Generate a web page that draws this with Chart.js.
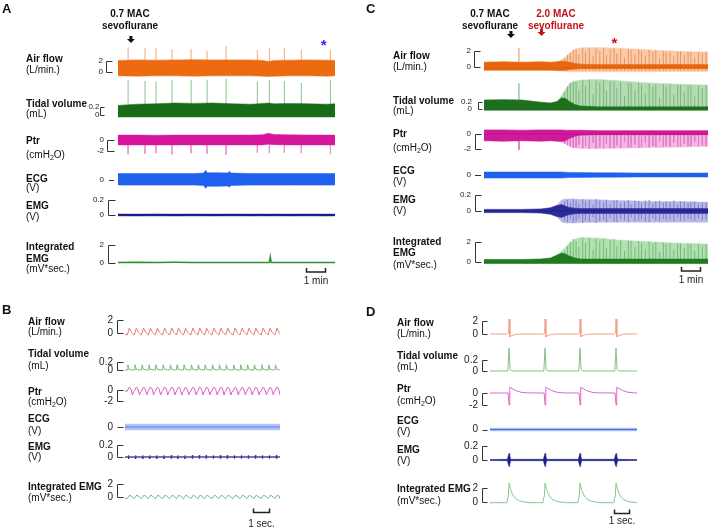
<!DOCTYPE html>
<html>
<head>
<meta charset="utf-8">
<script src="https://cdn.jsdelivr.net/npm/chart.js@4.4.1/dist/chart.umd.min.js"></script>
<style>
html, body { margin: 0; padding: 0; background: #fff; }
#page { position: relative; width: 709px; height: 532px; overflow: hidden; font-family: "Liberation Sans", Arial, sans-serif; color: #111; }
canvas { position: absolute; }
.t { position: absolute; white-space: nowrap; font-size: 10px; line-height: 12px; }
.b { font-weight: bold; }
.letter { position: absolute; font-weight: bold; font-size: 13px; line-height: 15px; }
.note { position: absolute; width: 90px; text-align: center; font-weight: bold; font-size: 10px; line-height: 12px; }
sub { font-size: 7px; line-height: 0; vertical-align: -2px; }
</style>
</head>
<body>
<div id="page">
  <canvas id="cA"></canvas>
  <canvas id="cC"></canvas>
  <canvas id="cB"></canvas>
  <canvas id="cD"></canvas>

  <div class="letter" style="left:2px;top:1px">A</div>
  <div class="letter" style="left:366px;top:1px">C</div>
  <div class="letter" style="left:2px;top:302px">B</div>
  <div class="letter" style="left:366px;top:304px">D</div>

  <div class="note" style="left:85px;top:8px">0.7 MAC<br>sevoflurane</div>
  <div class="note" style="left:445px;top:8px">0.7 MAC<br>sevoflurane</div>
  <div class="note" style="left:511px;top:8px;color:#c0141c">2.0 MAC<br>sevoflurane</div>

  <!-- panel A labels -->
  <div class="t b" style="left:26px;top:53px">Air flow</div>
  <div class="t" style="left:26px;top:64px">(L/min.)</div>
  <div class="t b" style="left:26px;top:98px">Tidal volume</div>
  <div class="t" style="left:26px;top:108px">(mL)</div>
  <div class="t b" style="left:26px;top:135px">Ptr</div>
  <div class="t" style="left:26px;top:149px">(cmH<sub>2</sub>O)</div>
  <div class="t b" style="left:26px;top:173px">ECG</div>
  <div class="t" style="left:26px;top:182px">(V)</div>
  <div class="t b" style="left:26px;top:200px">EMG</div>
  <div class="t" style="left:26px;top:211px">(V)</div>
  <div class="t b" style="left:26px;top:241px">Integrated</div>
  <div class="t b" style="left:26px;top:253px">EMG</div>
  <div class="t" style="left:26px;top:263px">(mV*sec.)</div>

  <!-- panel C labels -->
  <div class="t b" style="left:393px;top:50px">Air flow</div>
  <div class="t" style="left:393px;top:61px">(L/min.)</div>
  <div class="t b" style="left:393px;top:95px">Tidal volume</div>
  <div class="t" style="left:393px;top:105px">(mL)</div>
  <div class="t b" style="left:393px;top:128px">Ptr</div>
  <div class="t" style="left:393px;top:142px">(cmH<sub>2</sub>O)</div>
  <div class="t b" style="left:393px;top:165px">ECG</div>
  <div class="t" style="left:393px;top:176px">(V)</div>
  <div class="t b" style="left:393px;top:194px">EMG</div>
  <div class="t" style="left:393px;top:205px">(V)</div>
  <div class="t b" style="left:393px;top:236px">Integrated</div>
  <div class="t b" style="left:393px;top:247px">EMG</div>
  <div class="t" style="left:393px;top:259px">(mV*sec.)</div>

  <!-- panel B labels -->
  <div class="t b" style="left:28px;top:316px">Air flow</div>
  <div class="t" style="left:28px;top:326px">(L/min.)</div>
  <div class="t b" style="left:28px;top:348px">Tidal volume</div>
  <div class="t" style="left:28px;top:360px">(mL)</div>
  <div class="t b" style="left:28px;top:386px">Ptr</div>
  <div class="t" style="left:28px;top:396px">(cmH<sub>2</sub>O)</div>
  <div class="t b" style="left:28px;top:413px">ECG</div>
  <div class="t" style="left:28px;top:425px">(V)</div>
  <div class="t b" style="left:28px;top:441px">EMG</div>
  <div class="t" style="left:28px;top:451px">(V)</div>
  <div class="t b" style="left:28px;top:481px">Integrated EMG</div>
  <div class="t" style="left:28px;top:492px">(mV*sec.)</div>

  <!-- panel D labels -->
  <div class="t b" style="left:397px;top:317px">Air flow</div>
  <div class="t" style="left:397px;top:328px">(L/min.)</div>
  <div class="t b" style="left:397px;top:350px">Tidal volume</div>
  <div class="t" style="left:397px;top:361px">(mL)</div>
  <div class="t b" style="left:397px;top:383px">Ptr</div>
  <div class="t" style="left:397px;top:395px">(cmH<sub>2</sub>O)</div>
  <div class="t b" style="left:397px;top:415px">ECG</div>
  <div class="t" style="left:397px;top:426px">(V)</div>
  <div class="t b" style="left:397px;top:444px">EMG</div>
  <div class="t" style="left:397px;top:455px">(V)</div>
  <div class="t b" style="left:397px;top:483px">Integrated EMG</div>
  <div class="t" style="left:397px;top:495px">(mV*sec.)</div>
</div>

<script>
// tick values of the scale brackets, same order in every panel:
// air flow, tidal volume, Ptr, ECG, EMG, integrated EMG
const bracketTicks = [[0, 2], [0, 0.2], [-2, 0], [0], [0, 0.2], [0, 2]];

// ---------- A : 0.7 MAC, time in minutes ----------
const aEnvT    = [0, 1, 2, 3, 4, 5, 6, 7, 7.6, 7.9, 8.2, 9, 10, 11, 11.4];
const aFlowHi  = [2.1, 2.2, 2.15, 2.2, 2.25, 2.2, 2.2, 2.2, 2.1, 1.9, 2.1, 2.15, 2.2, 2.15, 2.1];
const aFlowLo  = [-0.7, -0.75, -0.7, -0.7, -0.75, -0.7, -0.7, -0.7, -0.75, -0.8, -0.75, -0.7, -0.7, -0.75, -0.7];
const aTidalHi = [0.24, 0.27, 0.28, 0.3, 0.29, 0.3, 0.28, 0.27, 0.29, 0.3, 0.28, 0.29, 0.28, 0.27, 0.28];
const aTidalLo = [-0.05, -0.05, -0.05, -0.05, -0.05, -0.05, -0.05, -0.05, -0.05, -0.05, -0.05, -0.05, -0.05, -0.05, -0.05];
const aPtrHi   = [0.9, 0.9, 0.85, 0.9, 0.9, 0.9, 0.9, 0.9, 0.95, 1.25, 1.0, 0.95, 0.9, 0.9, 0.9];
const aPtrLo   = [-0.9, -0.9, -0.9, -0.9, -0.9, -0.9, -0.9, -0.9, -0.9, -0.75, -0.85, -0.9, -0.9, -0.9, -0.9];
const aEmgHi   = [0.013, 0.012, 0.014, 0.012, 0.013, 0.012, 0.013, 0.012, 0.013, 0.012, 0.013, 0.012, 0.013, 0.012, 0.013];
const aEmgLo   = [-0.012, -0.013, -0.012, -0.013, -0.012, -0.013, -0.012, -0.013, -0.012, -0.013, -0.012, -0.013, -0.012, -0.013, -0.012];
const aEcgT    = [0, 2, 4, 4.5, 4.6, 4.7, 5.2, 5.75, 5.85, 5.95, 7, 9, 11.4];
const aEcgHi   = [0.3, 0.3, 0.3, 0.32, 0.46, 0.34, 0.34, 0.33, 0.4, 0.32, 0.3, 0.3, 0.3];
const aEcgLo   = [-0.28, -0.28, -0.28, -0.3, -0.44, -0.34, -0.34, -0.33, -0.38, -0.3, -0.28, -0.28, -0.28];
const aIntT    = [0, 1, 2, 3, 4, 5, 6, 7, 7.95, 8.0, 8.05, 9, 10, 11, 11.4];
const aIntV    = [0.05, 0.08, 0.05, 0.07, 0.05, 0.06, 0.05, 0.06, 0.05, 0.7, 0.05, 0.06, 0.05, 0.06, 0.05];
const aSpikeT     = [0.53, 1.42, 2.0, 2.84, 3.84, 4.68, 5.68, 7.32, 7.95, 8.74, 9.63, 11.16];
const aFlowSpike  = [4.5, 4.4, 4.4, 4.1, 4.2, 3.8, 4.7, 4.0, 4.4, 4.4, 4.0, 4.0];
const aTidalSpike = [0.88, 0.85, 0.83, 0.88, 0.88, 0.88, 0.9, 0.83, 0.88, 0.85, 0.8, 0.88];
const aPtrSpike   = [-2.6, -2.5, -2.4, -2.6, -2.4, -2.5, -2.7, -2.3, -2.4, -2.3, -2.4, -2.5];

// ---------- C : 0.7 then 2.0 MAC, time in minutes ----------
const cEnvT     = [0, 1, 2, 3, 3.5, 3.85, 4.1, 4.3, 4.5, 4.8, 5.1, 6, 7, 8, 9, 10, 11, 11.8];
const cFlowHi   = [0.6, 0.65, 0.6, 0.65, 0.6, 0.65, 0.9, 1.25, 1.75, 2.25, 2.4, 2.45, 2.35, 2.25, 2.1, 2.0, 1.9, 1.9];
const cFlowLo   = [-0.4, -0.4, -0.4, -0.4, -0.4, -0.45, -0.5, -0.55, -0.6, -0.6, -0.6, -0.6, -0.6, -0.6, -0.6, -0.55, -0.55, -0.55];
const cFlowDkHi = [0.6, 0.65, 0.6, 0.65, 0.6, 0.65, 0.75, 0.7, 0.6, 0.45, 0.35, 0.3, 0.3, 0.3, 0.3, 0.3, 0.3, 0.3];
const cFlowDkLo = [-0.4, -0.4, -0.4, -0.4, -0.4, -0.45, -0.45, -0.4, -0.3, -0.25, -0.2, -0.2, -0.2, -0.2, -0.2, -0.2, -0.2, -0.2];
const cTidalHi   = [0.24, 0.25, 0.24, 0.18, 0.16, 0.2, 0.37, 0.53, 0.67, 0.75, 0.77, 0.79, 0.76, 0.72, 0.69, 0.67, 0.65, 0.64];
const cTidalLo   = [-0.03, -0.03, -0.03, -0.03, -0.03, -0.03, -0.03, -0.03, -0.03, -0.03, -0.03, -0.03, -0.03, -0.03, -0.03, -0.03, -0.03, -0.03];
const cTidalDkHi = [0.24, 0.25, 0.24, 0.18, 0.16, 0.2, 0.3, 0.28, 0.2, 0.12, 0.08, 0.06, 0.06, 0.06, 0.06, 0.06, 0.06, 0.06];
const cPtrHi   = [0.55, 0.55, 0.5, 0.55, 0.55, 0.55, 0.55, 0.5, 0.5, 0.5, 0.5, 0.45, 0.45, 0.45, 0.45, 0.45, 0.45, 0.45];
const cPtrLo   = [-0.9, -0.95, -0.9, -0.95, -0.9, -0.95, -1.1, -1.35, -1.6, -1.85, -1.9, -1.95, -1.9, -1.85, -1.8, -1.75, -1.7, -1.65];
const cPtrDkLo = [-0.9, -0.95, -0.9, -0.95, -0.9, -0.95, -1.0, -0.9, -0.6, -0.3, -0.15, -0.1, -0.1, -0.1, -0.1, -0.1, -0.1, -0.1];
const cEcgHi = [0.15, 0.15, 0.15, 0.15, 0.15, 0.15, 0.15, 0.14, 0.13, 0.12, 0.12, 0.11, 0.11, 0.1, 0.1, 0.1, 0.1, 0.1];
const cEcgLo = [-0.15, -0.15, -0.15, -0.15, -0.15, -0.15, -0.15, -0.14, -0.13, -0.12, -0.12, -0.11, -0.11, -0.1, -0.1, -0.1, -0.1, -0.1];
const cEmgHi   = [0.02, 0.02, 0.02, 0.025, 0.04, 0.075, 0.14, 0.15, 0.15, 0.15, 0.145, 0.14, 0.13, 0.125, 0.12, 0.12, 0.115, 0.11];
const cEmgLo   = [-0.02, -0.02, -0.02, -0.025, -0.04, -0.075, -0.14, -0.15, -0.15, -0.15, -0.145, -0.14, -0.14, -0.14, -0.14, -0.14, -0.14, -0.14];
const cEmgDkHi = [0.02, 0.02, 0.02, 0.025, 0.04, 0.07, 0.08, 0.06, 0.045, 0.035, 0.03, 0.03, 0.03, 0.03, 0.03, 0.03, 0.03, 0.03];
const cEmgDkLo = [-0.02, -0.02, -0.02, -0.025, -0.04, -0.07, -0.08, -0.06, -0.045, -0.035, -0.03, -0.03, -0.03, -0.03, -0.03, -0.03, -0.03, -0.03];
const cIntHi   = [0.25, 0.25, 0.25, 0.3, 0.4, 0.7, 1.1, 1.5, 1.9, 2.3, 2.45, 2.4, 2.2, 2.1, 2.0, 1.9, 1.85, 1.8];
const cIntLo   = [-0.15, -0.15, -0.15, -0.15, -0.15, -0.15, -0.15, -0.15, -0.15, -0.15, -0.15, -0.15, -0.15, -0.15, -0.15, -0.15, -0.15, -0.15];
const cIntDkHi = [0.25, 0.25, 0.25, 0.3, 0.4, 0.7, 0.9, 0.8, 0.6, 0.4, 0.3, 0.3, 0.3, 0.3, 0.3, 0.3, 0.3, 0.3];
const cSpikeT     = [1.84];
const cFlowSpike  = [2.4];
const cTidalSpike = [0.69];
const cPtrSpike   = [-2.1];
// individual deep breaths (darker streaks) after 2.0 MAC
const cStreakT = [4.25, 4.4, 4.55, 4.7, 4.85, 5.0, 5.2, 5.35, 5.55, 5.75, 5.9, 6.1, 6.3, 6.45, 6.65, 6.85, 7.0, 7.2, 7.4, 7.6, 7.75,
                  7.95, 8.15, 8.3, 8.5, 8.7, 8.9, 9.05, 9.25, 9.45, 9.6, 9.8, 10.0, 10.2, 10.35, 10.55, 10.75, 10.9, 11.1, 11.3, 11.5, 11.7];
const cFlowStreak  = [1.1, 1.5, 1.7, 2.1, 2.2, 1.6, 2.35, 1.9, 2.4, 1.3, 2.3, 2.0, 2.4, 1.5, 2.2, 2.35, 1.7, 2.3, 1.2, 2.25, 2.1,
                      1.6, 2.2, 2.0, 1.4, 2.15, 1.9, 2.1, 1.1, 2.0, 1.8, 1.95, 1.3, 1.9, 2.0, 1.5, 1.85, 1.9, 1.2, 1.85, 1.7, 1.8];
const cTidalStreak = [0.45, 0.6, 0.7, 0.74, 0.72, 0.5, 0.78, 0.62, 0.79, 0.4, 0.76, 0.7, 0.77, 0.48, 0.74, 0.75, 0.55, 0.72, 0.35, 0.7, 0.69,
                      0.5, 0.7, 0.65, 0.42, 0.68, 0.6, 0.67, 0.3, 0.66, 0.6, 0.65, 0.38, 0.64, 0.65, 0.45, 0.63, 0.64, 0.33, 0.62, 0.55, 0.62];
const cPtrStreak   = [-1.3, -1.5, -1.7, -1.85, -1.8, -1.4, -1.9, -1.6, -1.95, -1.2, -1.9, -1.75, -1.9, -1.3, -1.85, -1.85, -1.5, -1.8, -1.1, -1.8, -1.75,
                      -1.4, -1.78, -1.65, -1.2, -1.75, -1.6, -1.7, -1.0, -1.7, -1.6, -1.68, -1.15, -1.66, -1.65, -1.3, -1.64, -1.62, -1.05, -1.62, -1.5, -1.6];
const cEmgStreak   = [0.12, 0.14, 0.1, 0.15, 0.13, 0.09, 0.15, 0.12, 0.14, 0.08, 0.15, 0.13, 0.11, 0.14, 0.09, 0.13, 0.14, 0.1, 0.12, 0.14, 0.08,
                      0.13, 0.12, 0.1, 0.13, 0.14, 0.09, 0.12, 0.13, 0.1, 0.12, 0.11, 0.13, 0.08, 0.12, 0.12, 0.1, 0.11, 0.12, 0.09, 0.11, 0.11];
const cIntStreak   = [1.1, 1.6, 2.0, 2.3, 2.1, 1.5, 2.45, 1.9, 2.4, 1.2, 2.3, 2.1, 2.35, 1.4, 2.2, 2.3, 1.6, 2.2, 1.1, 2.15, 2.1,
                      1.5, 2.1, 1.9, 1.3, 2.05, 1.8, 2.0, 1.0, 1.95, 1.8, 1.9, 1.2, 1.9, 1.85, 1.4, 1.85, 1.8, 1.1, 1.8, 1.6, 1.75];

// ---------- B : 0.7 MAC detail, time in seconds ----------
const bBreathT = [0.14, 0.58, 1.03, 1.46, 1.9, 2.35, 2.8, 3.22, 3.66, 4.12, 4.55, 4.98, 5.44, 5.87, 6.3, 6.76, 7.2, 7.63, 8.06, 8.52, 8.95, 9.38];
const bFlowOff  = [0, 0.13, 0.26, 0.34];
const bFlowVal  = [-0.3, 0.75, 0.1, -0.1];
const bTidalOff = [0, 0.04, 0.12, 0.3];
const bTidalVal = [0, 0.13, 0.02, 0];
const bPtrOff   = [0, 0.12, 0.22, 0.33, 0.4];
const bPtrVal   = [-0.2, 0.5, 0.3, -0.9, -0.3];
const bEmgOff   = [0.05, 0.09, 0.13];
const bEmgVal   = [0.006, 0.03, 0.006];
const bIntOff   = [0, 0.16, 0.32];
const bIntVal   = [-0.25, 0.3, 0.0];
const bEcgHalf  = 0.15;

// ---------- D : 2.0 MAC detail, time in seconds ----------
const dBreathT  = [1.27, 3.67, 6.0, 8.4];
const dFlowOff  = [-0.12, -0.03, 0, 0.06, 0.15, 0.3, 0.5, 0.8];
const dFlowVal  = [0, 0.15, 2.3, -0.45, -0.3, -0.15, -0.05, 0];
const dTidalOff = [-0.08, 0, 0.07, 0.2];
const dTidalVal = [0, 0.42, 0.03, 0];
const dPtrOff   = [-0.06, 0, 0.05, 0.2, 0.45, 0.8, 1.2];
const dPtrVal   = [0, -2.0, 0.95, 0.75, 0.4, 0.12, 0.02];
const dEmgOff   = [-0.11, -0.05, 0, 0.05, 0.11];
const dEmgVal   = [0.01, 0.065, 0.095, 0.065, 0.01];
const dIntOff   = [-0.15, -0.05, 0, 0.1, 0.25, 0.45, 0.7, 1.0, 1.4];
const dIntVal   = [-0.1, 0.9, 2.7, 1.8, 1.0, 0.45, 0.15, 0.0, -0.1];
const dEcgHalf  = 0.07;

// ---------- layout (page pixels) ----------
const panelA = {
  id: 'cA', left: 0, top: 0, width: 352, height: 292, traceLeft: 118, traceRight: 335, tMax: 11.4,
  tickFont: '8px "Liberation Sans", Arial, sans-serif',
  traces: [
    { zero: 72, ppu: 5.5, bx: 106.5, bl: 6, lr: 103 },
    { zero: 115, ppu: 40, bx: 100.5, bl: 4, lr: 99.5 },
    { zero: 140, ppu: 5.5, bx: 107.5, bl: 7, lr: 104 },
    { zero: 179.5, ppu: 20, bx: 109, bl: 5, lr: 104 },
    { zero: 215, ppu: 75, bx: 108.5, bl: 7, lr: 104 },
    { zero: 263, ppu: 9, bx: 108.5, bl: 7, lr: 104 }
  ],
  bar: { t0: 9.9, t1: 10.9, y: 272, ly: 281, text: '1 min' },
  arrows: [{ t: 0.68, y0: 36, y1: 43, color: '#111' }],
  stars: [{ t: 10.8, base: 50, color: '#2a2aee' }]
};
const panelC = {
  id: 'cC', left: 356, top: 0, width: 353, height: 292, traceLeft: 484, traceRight: 708, tMax: 11.8,
  tickFont: '8px "Liberation Sans", Arial, sans-serif',
  traces: [
    { zero: 67, ppu: 8, bx: 474.5, bl: 6, lr: 471 },
    { zero: 109, ppu: 37.5, bx: 478.5, bl: 4, lr: 472 },
    { zero: 134, ppu: 7.5, bx: 475.5, bl: 6, lr: 471 },
    { zero: 175, ppu: 20, bx: 475, bl: 6, lr: 471 },
    { zero: 211, ppu: 80, bx: 475.5, bl: 6, lr: 471 },
    { zero: 262, ppu: 10, bx: 475.5, bl: 6, lr: 471 }
  ],
  bar: { t0: 10.37, t1: 11.37, y: 271, ly: 280, text: '1 min' },
  arrows: [{ t: 1.42, y0: 31, y1: 38, color: '#111' }, { t: 3.03, y0: 29, y1: 36, color: '#c0141c' }],
  stars: [{ t: 6.87, base: 48, color: '#c0141c' }]
};
const panelB = {
  id: 'cB', left: 0, top: 292, width: 352, height: 240, traceLeft: 125, traceRight: 280, tMax: 9.7,
  tickFont: '10px "Liberation Sans", Arial, sans-serif',
  traces: [
    { zero: 333, ppu: 6.5, bx: 117.5, bl: 6, lr: 113 },
    { zero: 370, ppu: 40, bx: 117.5, bl: 6, lr: 113 },
    { zero: 390, ppu: 5.5, bx: 117.5, bl: 6, lr: 113 },
    { zero: 427, ppu: 20, bx: 117.5, bl: 6, lr: 113 },
    { zero: 457, ppu: 60, bx: 117.5, bl: 6, lr: 113 },
    { zero: 497, ppu: 6.5, bx: 117.5, bl: 6, lr: 113 }
  ],
  bar: { t0: 8.0, t1: 9.0, y: 512.5, ly: 524, text: '1 sec.' },
  arrows: [], stars: []
};
const panelD = {
  id: 'cD', left: 356, top: 292, width: 353, height: 240, traceLeft: 490, traceRight: 637, tMax: 9.8,
  tickFont: '10px "Liberation Sans", Arial, sans-serif',
  traces: [
    { zero: 334, ppu: 6.5, bx: 482.5, bl: 5, lr: 478 },
    { zero: 371, ppu: 55, bx: 482.5, bl: 5, lr: 478 },
    { zero: 393, ppu: 6, bx: 482.5, bl: 5, lr: 478 },
    { zero: 429.5, ppu: 20, bx: 482.5, bl: 5, lr: 478 },
    { zero: 460, ppu: 70, bx: 482.5, bl: 5, lr: 478 },
    { zero: 502, ppu: 7, bx: 482.5, bl: 5, lr: 478 }
  ],
  bar: { t0: 8.27, t1: 9.27, y: 513.5, ly: 521, text: '1 sec.' },
  arrows: [], stars: []
};

// ---------- helpers ----------
function pts(xs, ys) { return xs.map((x, i) => ({ x: x, y: ys[i] })); }

// repeat one read breath shape at each breath time
function tile(times, offs, vals, base, tMax) {
  const out = [{ x: 0, y: base }];
  times.forEach(t => offs.forEach((o, i) => out.push({ x: t + o, y: vals[i] })));
  out.push({ x: tMax, y: base });
  return out;
}

// vertical segments, lo / hi may be a number or an array
function segData(times, lo, hi) {
  const out = [];
  times.forEach((t, i) => {
    const a = Array.isArray(lo) ? lo[i] : lo;
    const b = Array.isArray(hi) ? hi[i] : hi;
    out.push({ x: t, y: a }, { x: t, y: b }, { x: t, y: null });
  });
  return out;
}

function lineDs(axis, data, color, width, order) {
  return { data: data, yAxisID: axis, borderColor: color, borderWidth: width, pointRadius: 0,
           tension: 0, fill: false, spanGaps: false, order: order };
}

function bandDs(axis, lo, hi, color, order) {
  return [
    { data: lo, yAxisID: axis, borderColor: color, borderWidth: 0.5, pointRadius: 0, fill: false, order: order },
    { data: hi, yAxisID: axis, borderColor: color, borderWidth: 0.5, pointRadius: 0, fill: '-1', backgroundColor: color, order: order }
  ];
}

function neg(a) { return a.map(v => -v); }

// brackets, tick labels, scale bar, arrows and asterisks
function decor(p) {
  return {
    id: 'decor',
    afterDraw(chart) {
      const ctx = chart.ctx, xs = chart.scales.x;
      ctx.save();
      ctx.strokeStyle = '#333';
      ctx.fillStyle = '#222';
      ctx.lineWidth = 1;
      ctx.font = p.tickFont;
      ctx.textAlign = 'right';
      ctx.textBaseline = 'middle';
      p.traces.forEach((tr, i) => {
        const ys = chart.scales['y' + i];
        const ticks = bracketTicks[i];
        const bx = tr.bx - p.left;
        const py = ticks.map(v => Math.round(ys.getPixelForValue(v)) + 0.5);
        ctx.beginPath();
        if (py.length === 1) {
          ctx.moveTo(bx, py[0]); ctx.lineTo(bx + tr.bl, py[0]);
        } else {
          ctx.moveTo(bx + tr.bl, py[0]); ctx.lineTo(bx, py[0]);
          ctx.lineTo(bx, py[1]); ctx.lineTo(bx + tr.bl, py[1]);
        }
        ctx.stroke();
        ticks.forEach(v => ctx.fillText(String(v), tr.lr - p.left, ys.getPixelForValue(v)));
      });

      // time scale bar
      const x0 = Math.round(xs.getPixelForValue(p.bar.t0)) + 0.5;
      const x1 = Math.round(xs.getPixelForValue(p.bar.t1)) + 0.5;
      const by = p.bar.y - p.top;
      ctx.strokeStyle = '#222';
      ctx.lineWidth = 1.5;
      ctx.beginPath();
      ctx.moveTo(x0, by - 4); ctx.lineTo(x0, by); ctx.lineTo(x1, by); ctx.lineTo(x1, by - 4);
      ctx.stroke();
      ctx.font = '10px "Liberation Sans", Arial, sans-serif';
      ctx.textAlign = 'center';
      ctx.fillText(p.bar.text, (x0 + x1) / 2, p.bar.ly - p.top);

      // drug arrows
      p.arrows.forEach(a => {
        const ax = xs.getPixelForValue(a.t);
        const y0 = a.y0 - p.top, y1 = a.y1 - p.top;
        ctx.fillStyle = a.color;
        ctx.fillRect(ax - 1.5, y0, 3, y1 - y0 - 3);
        ctx.beginPath();
        ctx.moveTo(ax - 4, y1 - 4); ctx.lineTo(ax + 4, y1 - 4); ctx.lineTo(ax, y1);
        ctx.closePath();
        ctx.fill();
      });

      // asterisks
      ctx.font = 'bold 15px "Liberation Sans", Arial, sans-serif';
      ctx.textBaseline = 'alphabetic';
      p.stars.forEach(s => {
        ctx.fillStyle = s.color;
        ctx.fillText('*', xs.getPixelForValue(s.t), s.base - p.top);
      });
      ctx.restore();
    }
  };
}

function buildPanel(p, datasets) {
  const cv = document.getElementById(p.id);
  cv.width = p.width;
  cv.height = p.height;
  cv.style.left = p.left + 'px';
  cv.style.top = p.top + 'px';
  const scales = { x: { type: 'linear', display: false, min: 0, max: p.tMax, offset: false } };
  p.traces.forEach((tr, i) => {
    const z = tr.zero - p.top;
    scales['y' + i] = { type: 'linear', display: false, min: -(p.height - z) / tr.ppu, max: z / tr.ppu };
  });
  new Chart(cv, {
    type: 'line',
    data: { datasets: datasets },
    options: {
      responsive: false,
      animation: false,
      events: [],
      layout: { padding: { left: p.traceLeft - p.left, right: p.left + p.width - p.traceRight, top: 0, bottom: 0 } },
      plugins: { legend: { display: false }, tooltip: { enabled: false } },
      scales: scales
    },
    plugins: [decor(p)]
  });
}

// ---------- panel A ----------
const TA = panelA.tMax;
buildPanel(panelA, [
  lineDs('y0', segData(aSpikeT, 0, aFlowSpike), '#f3a878', 1, 6),
  ...bandDs('y0', pts(aEnvT, aFlowLo), pts(aEnvT, aFlowHi), '#ec6a10', 3),
  lineDs('y1', segData(aSpikeT, 0, aTidalSpike), '#8cc28c', 1, 6),
  ...bandDs('y1', pts(aEnvT, aTidalLo), pts(aEnvT, aTidalHi), '#186c18', 3),
  lineDs('y2', segData(aSpikeT, 0, aPtrSpike), '#ea94cf', 1, 6),
  ...bandDs('y2', pts(aEnvT, aPtrLo), pts(aEnvT, aPtrHi), '#d6179e', 3),
  ...bandDs('y3', pts(aEcgT, aEcgLo), pts(aEcgT, aEcgHi), '#1f60ee', 3),
  ...bandDs('y4', pts(aEnvT, aEmgLo), pts(aEnvT, aEmgHi), '#1c1f8a', 3),
  lineDs('y4', [{ x: 0, y: 0 }, { x: TA, y: 0 }], '#1c1f8a', 1, 1),
  lineDs('y5', pts(aIntT, aIntV), '#2f8f2f', 1.5, 1)
]);

// ---------- panel C ----------
const TC = panelC.tMax;
buildPanel(panelC, [
  lineDs('y0', segData(cSpikeT, 0, cFlowSpike), '#f08a4a', 1, 6),
  ...bandDs('y0', pts(cEnvT, cFlowLo), pts(cEnvT, cFlowHi), '#f9cbab', 5),
  lineDs('y0', segData(cStreakT, -0.5, cFlowStreak), '#ef9358', 1, 4),
  ...bandDs('y0', pts(cEnvT, cFlowDkLo), pts(cEnvT, cFlowDkHi), '#e8660e', 3),
  lineDs('y0', [{ x: 0, y: -0.1 }, { x: TC, y: -0.1 }], '#e0600c', 1, 1),
  lineDs('y1', segData(cSpikeT, 0, cTidalSpike), '#6aaa6a', 1, 6),
  ...bandDs('y1', pts(cEnvT, cTidalLo), pts(cEnvT, cTidalHi), '#b5dbb5', 5),
  lineDs('y1', segData(cStreakT, 0, cTidalStreak), '#78b878', 1, 4),
  ...bandDs('y1', pts(cEnvT, cTidalLo), pts(cEnvT, cTidalDkHi), '#1e6f1e', 3),
  lineDs('y2', segData(cSpikeT, 0, cPtrSpike), '#e070c0', 1, 6),
  ...bandDs('y2', pts(cEnvT, cPtrLo), pts(cEnvT, cPtrHi), '#f3b8e2', 5),
  lineDs('y2', segData(cStreakT, 0, cPtrStreak), '#e27ccb', 1, 4),
  ...bandDs('y2', pts(cEnvT, cPtrDkLo), pts(cEnvT, cPtrHi), '#d01a9a', 3),
  lineDs('y2', [{ x: 0, y: 0 }, { x: TC, y: 0 }], '#b8108a', 1, 1),
  ...bandDs('y3', pts(cEnvT, cEcgLo), pts(cEnvT, cEcgHi), '#1f60ee', 3),
  ...bandDs('y4', pts(cEnvT, cEmgLo), pts(cEnvT, cEmgHi), '#bbb8e8', 5),
  lineDs('y4', segData(cStreakT, neg(cEmgStreak), cEmgStreak), '#7f7bd0', 1, 4),
  ...bandDs('y4', pts(cEnvT, cEmgDkLo), pts(cEnvT, cEmgDkHi), '#2a2c96', 3),
  lineDs('y4', [{ x: 0, y: 0 }, { x: TC, y: 0 }], '#1c1f8a', 1, 1),
  ...bandDs('y5', pts(cEnvT, cIntLo), pts(cEnvT, cIntHi), '#b4dfb4', 5),
  lineDs('y5', segData(cStreakT, 0, cIntStreak), '#6fbf6f', 1, 4),
  ...bandDs('y5', pts(cEnvT, cIntLo), pts(cEnvT, cIntDkHi), '#207a20', 3)
]);

// ---------- panel B ----------
const TB = panelB.tMax;
buildPanel(panelB, [
  lineDs('y0', tile(bBreathT, bFlowOff, bFlowVal, -0.2, TB), '#e07a70', 1, 1),
  lineDs('y1', tile(bBreathT, bTidalOff, bTidalVal, 0, TB), '#7bb57b', 1, 1),
  lineDs('y2', tile(bBreathT, bPtrOff, bPtrVal, -0.2, TB), '#de5cbf', 1, 1),
  ...bandDs('y3', [{ x: 0, y: -bEcgHalf }, { x: TB, y: -bEcgHalf }], [{ x: 0, y: bEcgHalf }, { x: TB, y: bEcgHalf }], '#b3c4f2', 3),
  lineDs('y3', [{ x: 0, y: 0 }, { x: TB, y: 0 }], '#5b7fe6', 1, 1),
  ...bandDs('y4', tile(bBreathT, bEmgOff, neg(bEmgVal), -0.006, TB), tile(bBreathT, bEmgOff, bEmgVal, 0.006, TB), '#1c1f8a', 3),
  lineDs('y5', tile(bBreathT, bIntOff, bIntVal, -0.2, TB), '#6dbb85', 1, 1)
]);

// ---------- panel D ----------
const TD = panelD.tMax;
buildPanel(panelD, [
  lineDs('y0', tile(dBreathT, dFlowOff, dFlowVal, 0, TD), '#f0a284', 1, 1),
  lineDs('y1', tile(dBreathT, dTidalOff, dTidalVal, 0, TD), '#85c085', 1, 1),
  lineDs('y2', tile(dBreathT, dPtrOff, dPtrVal, 0, TD), '#e067c5', 1, 1),
  ...bandDs('y3', [{ x: 0, y: -dEcgHalf }, { x: TD, y: -dEcgHalf }], [{ x: 0, y: dEcgHalf }, { x: TD, y: dEcgHalf }], '#a9bbf0', 3),
  lineDs('y3', [{ x: 0, y: 0 }, { x: TD, y: 0 }], '#4a70e2', 1, 1),
  ...bandDs('y4', tile(dBreathT, dEmgOff, neg(dEmgVal), -0.006, TD), tile(dBreathT, dEmgOff, dEmgVal, 0.006, TD), '#1c1f8a', 3),
  lineDs('y5', tile(dBreathT, dIntOff, dIntVal, -0.1, TD), '#80c890', 1, 1)
]);
</script>
</body>
</html>
